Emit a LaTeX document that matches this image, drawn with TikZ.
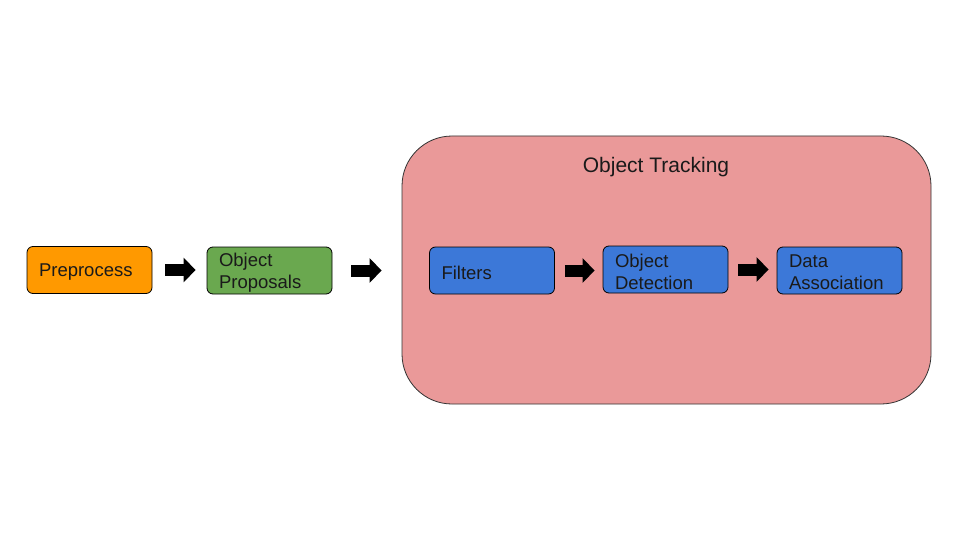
\documentclass[tikz,border=0pt]{standalone}
\usepackage{fontspec}
\setmainfont{Liberation Sans}
\usetikzlibrary{arrows.meta}
\definecolor{orangebox}{HTML}{FF9900}
\definecolor{greenbox}{HTML}{6AA84F}
\definecolor{bluebox}{HTML}{3C78D8}
\definecolor{pinkbox}{HTML}{EA9999}
\definecolor{edge}{HTML}{333333}
\definecolor{txt}{HTML}{1A1A1A}
\tikzset{
  stage/.style={draw=black, line width=0.8pt, rounded corners=6pt, minimum width=125pt, minimum height=47pt, inner sep=0pt},
  stagetext/.style={text width=101pt, inner sep=0pt, align=left, text=txt, yshift=-2pt,
    font=\fontsize{18.5}{22}\selectfont},
  blockarrow/.style={draw=black, line width=12pt, -{Triangle[length=12pt, width=24pt]}},
}
\begin{document}
\begin{tikzpicture}[x=1pt, y=-1pt]
\useasboundingbox (0,0) rectangle (960,540);
\node[draw=edge, line width=0.8pt, fill=pinkbox, rounded corners=50pt, minimum width=529pt, minimum height=268pt, inner sep=0pt] (track) at (666.5,270) {};
\node[text=txt, font=\fontsize{21}{25}\selectfont] (title) at (656,167) {Object Tracking};
\node[stage, fill=orangebox, label={[stagetext]center:Preprocess}] (pre) at (89.5,270) {};
\node[stage, fill=greenbox, label={[stagetext]center:{Object\\Proposals}}] (prop) at (269.5,270.5) {};
\node[stage, fill=bluebox, label={[stagetext]center:Filters}] (filt) at (492,270.5) {};
\node[stage, fill=bluebox, label={[stagetext]center:{Object\\Detection}}] (det) at (665.5,269.5) {};
\node[stage, fill=bluebox, label={[stagetext]center:{Data\\Association}}] (assoc) at (839.5,270.5) {};
\draw[blockarrow, shorten <=13pt, shorten >=11pt] (pre.east) -- (pre.east -| prop.west);
\draw[blockarrow, shorten <=19pt, shorten >=20pt] (prop.east) -- (prop.east -| track.west);
\draw[blockarrow, shorten <=10pt, shorten >=8pt] (filt.east) -- (filt.east -| det.west);
\draw[blockarrow, shorten <=10pt, shorten >=8pt] (det.east) -- (det.east -| assoc.west);
\end{tikzpicture}
\end{document}
